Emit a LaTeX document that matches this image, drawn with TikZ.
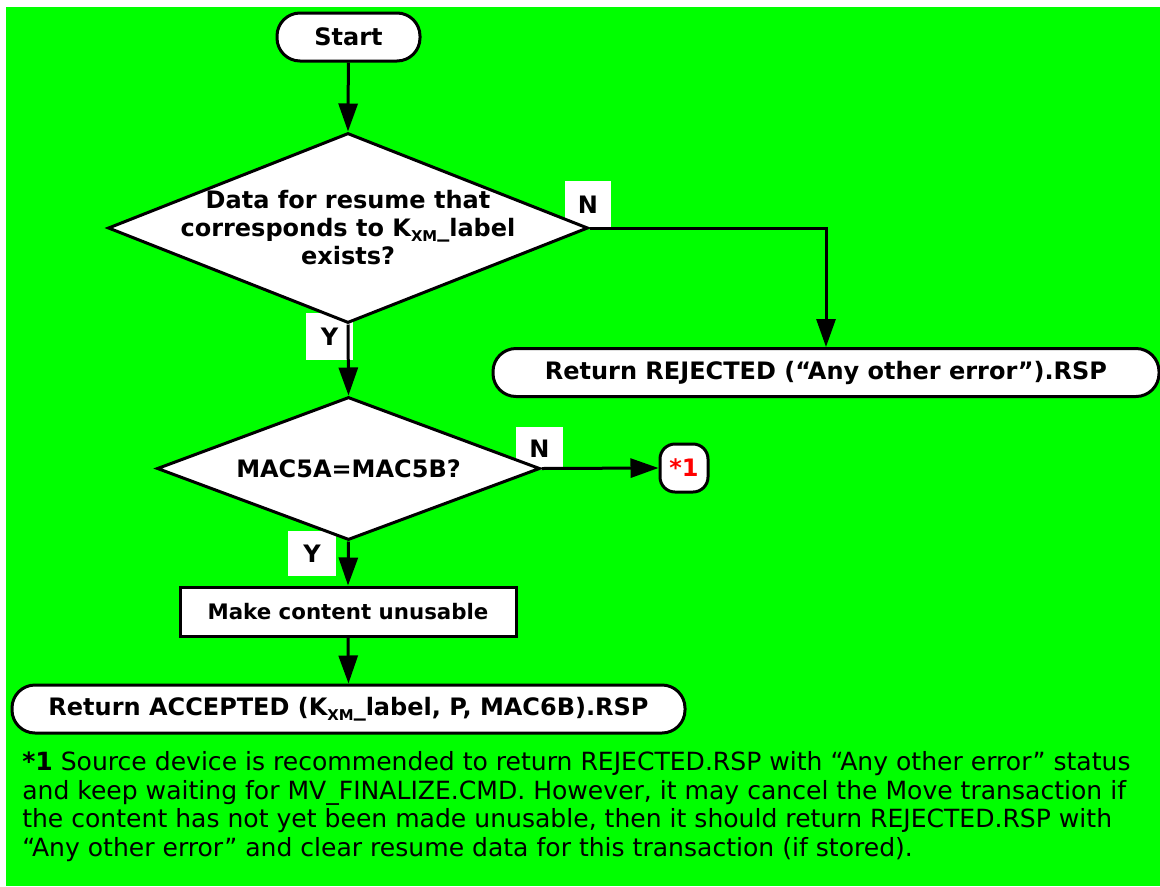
\documentclass[tikz,border=0pt]{standalone}
\usepackage{fontspec}
\usepackage{graphicx}
\setmainfont{DejaVu Sans}
\usetikzlibrary{arrows.meta,shapes.geometric}
\definecolor{panelgreen}{RGB}{0,255,0}
\definecolor{markred}{RGB}{255,0,0}
\newcommand\kxm{K\raisebox{-0.2em}{\scalebox{0.62}{XM}}}
% lengths below are in pt; one unit of the picture grid is 0.75pt
\tikzset{
  term/.style={draw, line width=2.25pt, fill=white, rounded corners=17.25pt,
    minimum height=36pt, inner sep=0pt, font=\bfseries\fontsize{18}{21}\selectfont},
  procbox/.style={draw, line width=2.25pt, fill=white, minimum height=36.75pt,
    inner sep=0pt, font=\bfseries\fontsize{16}{19}\selectfont},
  decision/.style={diamond, draw, line width=2.25pt, fill=white, inner sep=0pt},
  dtext/.style={align=center, font=\bfseries\fontsize{18}{21}\selectfont},
  answer/.style={fill=white, inner sep=0pt, font=\bfseries\fontsize{18}{21}\selectfont},
  flow/.style={line width=2.25pt, -{Triangle[length=21pt, width=14.25pt]}}
}
\begin{document}
\begin{tikzpicture}[x=0.75pt, y=-0.75pt]
\path[use as bounding box, fill=white] (0,0) rectangle (1160,886);
\fill[panelgreen] (6,7) rectangle (1160,886);

% Y / N answer tags (drawn first so the flow lines run over them)
\node[answer, minimum width=34.5pt, minimum height=35.25pt] (n1) at (588,204.5) {N};
\node[answer, minimum width=35.25pt, minimum height=35.25pt] (y1) at (329.5,336.5) {Y};
\node[answer, minimum width=35.25pt, minimum height=32.25pt] (n2) at (539.5,448.5) {N};
\node[answer, minimum width=36pt, minimum height=33.75pt] (y2) at (312,553.5) {Y};

% flow elements
\node[term, minimum width=107.25pt] (start) at (348.5,37) {Start};

\node[decision, minimum width=360pt, minimum height=142.5pt] (d1) at (348,228) {};
\node[dtext] (d1t) at (348,228) {Data for resume that\\corresponds to \kxm\_label\\exists?};

\node[term, minimum width=499.5pt] (rej) at (826,372.5) {Return REJECTED (“Any other error”).RSP};

\node[decision, minimum width=287.25pt, minimum height=107.25pt] (d2) at (348.5,468.5) {};
\node[dtext] (d2t) at (348.5,468.5) {MAC5A=MAC5B?};

\node[draw, line width=2.25pt, fill=white, rounded corners=11.25pt, minimum width=36pt,
  minimum height=36pt, inner sep=0pt, text=markred,
  font=\bfseries\fontsize{18}{21}\selectfont] (note) at (684,468) {*1};

\node[procbox, minimum width=252pt] (mk) at (348,611.5) {Make content unusable};

\node[term, minimum width=504.75pt] (acc) at (348.5,709) {Return ACCEPTED (\kxm\_label, P, MAC6B).RSP};

% connectors
\draw[flow] (start) -- (d1.north);
\draw[flow] (d1.east) -| (rej.north);
\draw[flow] (d1.south) -- (d2.north);
\draw[flow] (d2.east) -- (note.west);
\draw[flow] (d2.south) -- (mk.north);
\draw[flow] (mk.south) -- (acc.north);

% footnote
\node[anchor=north west, align=left, inner sep=0pt,
  font=\fontsize{18.8}{21.6}\selectfont] (foot) at (22,751)
  {\textbf{*1} Source device is recommended to return REJECTED.RSP with “Any other error” status\\
   and keep waiting for MV\_FINALIZE.CMD. However, it may cancel the Move transaction if\\
   the content has not yet been made unusable, then it should return REJECTED.RSP with\\
   “Any other error” and clear resume data for this transaction (if stored).};
\end{tikzpicture}
\end{document}
